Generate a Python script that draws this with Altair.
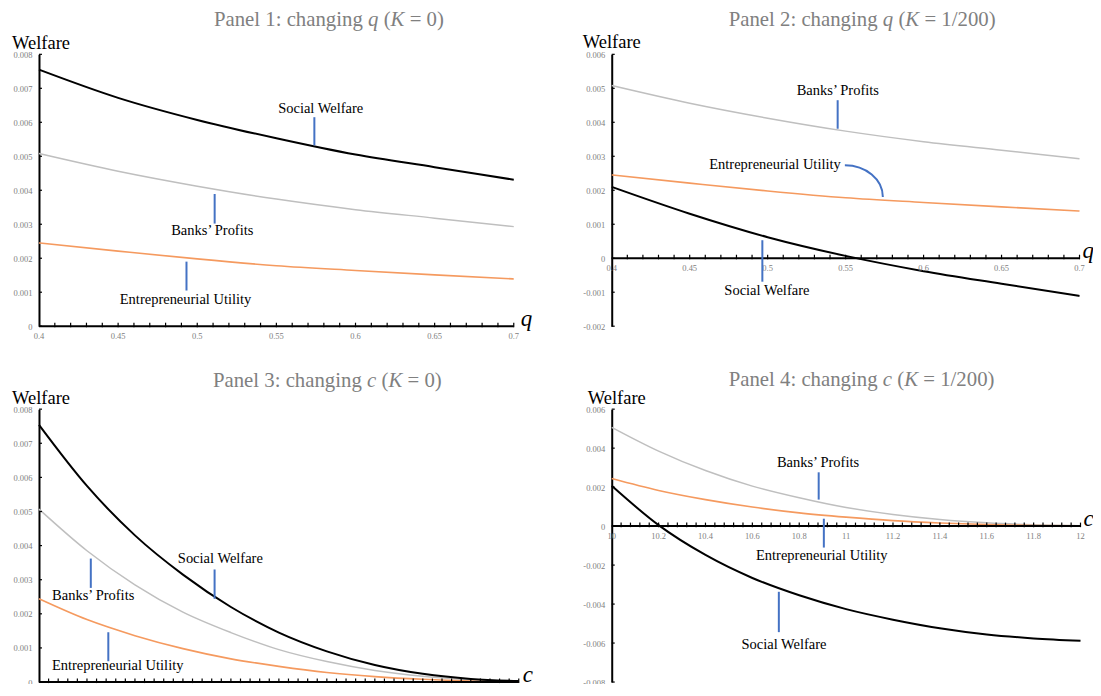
import altair as alt
import pandas as pd

# ---------------- data (welfare values) ----------------
Q = [0.40, 0.45, 0.50, 0.55, 0.60, 0.65, 0.70]
BANKS_Q = [0.00508, 0.00456, 0.00412, 0.00374, 0.00343, 0.00318, 0.00293]
ENTRE_Q = [0.00245, 0.00221, 0.00198, 0.00178, 0.00164, 0.00151, 0.00139]
SOCIAL_Q_K0 = [0.00755, 0.00672, 0.00607, 0.00553, 0.00505, 0.00468, 0.00431]
SOCIAL_Q_K200 = [0.00210, 0.00131, 0.00062, 0.00007, -0.00038, -0.00075, -0.00111]

C = [10.0, 10.2, 10.4, 10.6, 10.8, 11.0, 11.2, 11.4, 11.6, 11.8, 12.0]
BANKS_C = [0.00507, 0.00385, 0.00285, 0.00205, 0.00145, 0.00095, 0.00060, 0.00034, 0.00017, 0.00007, 0.00002]
ENTRE_C = [0.00244, 0.00183, 0.00136, 0.00098, 0.00068, 0.00046, 0.00028, 0.00016, 0.00008, 0.00003, 0.00001]
SOCIAL_C_K0 = [0.00754, 0.00575, 0.00430, 0.00315, 0.00220, 0.00145, 0.00090, 0.00050, 0.00024, 0.00009, 0.00003]
SOCIAL_C_K200 = [0.00207, 0.00005, -0.00148, -0.00266, -0.00355, -0.00426, -0.00480, -0.00524, -0.00556, -0.00576, -0.00588]

Q_LABELS = ["0.4", "0.45", "0.5", "0.55", "0.6", "0.65", "0.7"]
C_LABELS = ["10", "10.2", "10.4", "10.6", "10.8", "11", "11.2", "11.4", "11.6", "11.8", "12"]

# ---------------- style ----------------
SERIF = "Liberation Serif"
TICK_GRAY = "#808080"
TITLE_GRAY = "#808080"
BLUE = "#4472C4"
C_BANKS = "#BFBFBF"
C_ENTRE = "#F59A5F"
C_SOCIAL = "#000000"
TITLE_SIZE = 20.8
TICK_SIZE = 8.5

ROMAN_W = {'P': 556, 'a': 444, 'n': 500, 'e': 444, 'l': 278, ' ': 250, '0': 500, '1': 500,
           '2': 500, '3': 500, '4': 500, ':': 278, 'c': 444, 'h': 500, 'g': 500, 'i': 278,
           '(': 333, ')': 333, '=': 564, '/': 278}
ITALIC_W = {'q': 500, 'K': 667, 'c': 444}


def title_layers(segs, x0, y0):
    """segs: list of (text, italic, space_before)"""
    out = []
    cur = 0.0
    for text, ital, sp in segs:
        if sp:
            cur += 250
        out.append(
            alt.Chart(pd.DataFrame({"t": [text]}))
            .mark_text(font=SERIF, fontSize=TITLE_SIZE, color=TITLE_GRAY, align="left",
                       baseline="alphabetic", fontStyle="italic" if ital else "normal")
            .encode(x=alt.value(x0 + cur * TITLE_SIZE / 1000.0), y=alt.value(y0), text="t:N")
        )
        table = ITALIC_W if ital else ROMAN_W
        cur += sum(table.get(ch, 500) for ch in text)
    return out


def make_panel(xv, banks, entre, social, xdom, ydom, yticks, xminor, xlabels_v, xlabels_t,
               w, h, segs, title_xy, welfare_xy, var, var_dx, notes, pointers, arc=None):
    xs = alt.Scale(domain=xdom, nice=False, zero=False)
    ys = alt.Scale(domain=ydom, nice=False, zero=False)
    yax = alt.Axis(values=yticks, title=None, grid=False, ticks=False, domainColor="black",
                   domainWidth=2, labelFont=SERIF, labelFontSize=TICK_SIZE, labelColor=TICK_GRAY,
                   labelPadding=7, labelFlush=False, labelOverlap=False,
                   labelExpr="datum.value == 0 ? '0' : replace(format(datum.value, '.3f'), '\u2212', '-')")
    X = alt.X("x:Q", scale=xs, axis=None)
    Y = alt.Y("v:Q", scale=ys, axis=yax)
    layers = []
    for vals, color, sw in [(banks, C_BANKS, 1.5), (entre, C_ENTRE, 1.6), (social, C_SOCIAL, 2.0)]:
        df = pd.DataFrame({"x": xv, "v": vals})
        layers.append(alt.Chart(df).mark_line(color=color, strokeWidth=sw, interpolate="monotone")
                      .encode(x=X, y=Y))
    # x axis line at zero
    axdf = pd.DataFrame({"x": [xdom[0]], "x2": [xdom[1]], "v": [0.0]})
    layers.append(alt.Chart(axdf).mark_rule(color="black", strokeWidth=2)
                  .encode(x=X, x2=alt.X2("x2"), y=Y))
    # minor ticks on x axis
    mdf = pd.DataFrame({"x": xminor, "v": [0.0] * len(xminor)})
    layers.append(alt.Chart(mdf).mark_point(shape="M0,-1L0,0.3", size=49, filled=False, color="black",
                                            strokeWidth=1.2, opacity=1).encode(x=X, y=Y))
    # ticks on y axis (pointing inwards)
    ydf = pd.DataFrame({"x": [xdom[0]] * len(yticks), "v": yticks})
    layers.append(alt.Chart(ydf).mark_point(shape="M0,0L1,0", size=36, filled=False, color="black",
                                            strokeWidth=1.2, opacity=1).encode(x=X, y=Y))
    # x tick labels
    ldf = pd.DataFrame({"x": xlabels_v, "v": [0.0] * len(xlabels_v), "t": xlabels_t})
    layers.append(alt.Chart(ldf).mark_text(font=SERIF, fontSize=TICK_SIZE, color=TICK_GRAY, dy=10,
                                           baseline="middle", align="center")
                  .encode(x=X, y=Y, text="t:N"))
    # blue pointers
    pdf = pd.DataFrame(pointers, columns=["x", "v", "v2"])
    layers.append(alt.Chart(pdf).mark_rule(color=BLUE, strokeWidth=2)
                  .encode(x=X, y=Y, y2=alt.Y2("v2")))
    if arc is not None:
        adf = pd.DataFrame([arc], columns=["x", "v"])
        layers.append(alt.Chart(adf).mark_point(shape="M-1,-1A2,1.667 0 0 1 1,0.667", size=1444,
                                                filled=False, color=BLUE, strokeWidth=2, opacity=1)
                      .encode(x=X, y=Y))
    # annotations
    ndf = pd.DataFrame(notes, columns=["t", "x", "v"])
    layers.append(alt.Chart(ndf).mark_text(font=SERIF, fontSize=14.5, color="black", align="center",
                                           baseline="middle").encode(x=X, y=Y, text="t:N"))
    # axis variable
    vdf = pd.DataFrame({"x": [xdom[1]], "v": [0.0], "t": [var]})
    layers.append(alt.Chart(vdf).mark_text(font=SERIF, fontStyle="italic", fontSize=23, color="black",
                                           align="left", baseline="alphabetic", dx=var_dx)
                  .encode(x=X, y=Y, text="t:N"))
    # "Welfare"
    layers.append(alt.Chart(pd.DataFrame({"t": ["Welfare"]}))
                  .mark_text(font=SERIF, fontSize=18.5, color="black", align="left", baseline="alphabetic")
                  .encode(x=alt.value(welfare_xy[0]), y=alt.value(welfare_xy[1]), text="t:N"))
    layers += title_layers(segs, title_xy[0], title_xy[1])
    return alt.layer(*layers).properties(width=w, height=h)


yt8 = [round(0.001 * i, 3) for i in range(0, 9)]
yt_q2 = [round(0.001 * i, 3) for i in range(-2, 7)]
yt_c2 = [round(0.002 * i, 3) for i in range(-4, 4)]
minor_q = [round(0.4 + 0.01 * i, 2) for i in range(1, 31)]
minor_c = [round(10 + 0.04 * i, 2) for i in range(1, 51)]

p1 = make_panel(
    Q, BANKS_Q, ENTRE_Q, SOCIAL_Q_K0, [0.4, 0.7], [0, 0.008], yt8, minor_q, Q, Q_LABELS,
    475, 272,
    [("Panel 1: changing", False, False), ("q", True, True), ("(", False, True), ("K", True, False), ("= 0)", False, True)],
    (175, -28), (-27, -5.5), "q", 7,
    [("Social Welfare", 0.578, 0.00640), ("Banks’ Profits", 0.5095, 0.00279), ("Entrepreneurial Utility", 0.4926, 0.000765)],
    [(0.574, 0.00615, 0.00532), (0.511, 0.00389, 0.00302), (0.4932, 0.00190, 0.00105)],
)
p2 = make_panel(
    Q, BANKS_Q, ENTRE_Q, SOCIAL_Q_K200, [0.4, 0.7], [-0.002, 0.006], yt_q2, minor_q, Q, Q_LABELS,
    468, 272,
    [("Panel 2: changing", False, False), ("q", True, True), ("(", False, True), ("K", True, False), ("= 1/200)", False, True)],
    (117, -28), (-29, -6), "q", 3,
    [("Banks’ Profits", 0.545, 0.00492), ("Entrepreneurial Utility", 0.5047, 0.00275), ("Social Welfare", 0.4995, -0.00096)],
    [(0.5449, 0.00465, 0.00381), (0.4966, 0.00053, -0.00069)],
    arc=(0.5617, 0.002176),
)
p3 = make_panel(
    C, BANKS_C, ENTRE_C, SOCIAL_C_K0, [10, 12], [0, 0.008], yt8, minor_c, C, C_LABELS,
    480, 273,
    [("Panel 3: changing", False, False), ("c", True, True), ("(", False, True), ("K", True, False), ("= 0)", False, True)],
    (174, -22.5), (-27, -5.5), "c", 4,
    [("Social Welfare", 10.756, 0.00360), ("Banks’ Profits", 10.226, 0.00251), ("Entrepreneurial Utility", 10.328, 0.00046)],
    [(10.732, 0.00330, 0.00244), (10.216, 0.00362, 0.00276), (10.289, 0.00146, 0.00061)],
)
p4 = make_panel(
    C, BANKS_C, ENTRE_C, SOCIAL_C_K200, [10, 12], [-0.008, 0.006], yt_c2, minor_c, C, C_LABELS,
    469, 273,
    [("Panel 4: changing", False, False), ("c", True, True), ("(", False, True), ("K", True, False), ("= 1/200)", False, True)],
    (117, -23), (-24, -5.5), "c", 3,
    [("Banks’ Profits", 10.88, 0.00325), ("Entrepreneurial Utility", 10.896, -0.00153), ("Social Welfare", 10.735, -0.00609)],
    [(10.883, 0.00276, 0.00136), (10.905, 0.00038, -0.00110), (10.713, -0.00337, -0.00544)],
)

chart = (
    alt.concat(p1, p2, p3, p4, columns=2, spacing=alt.RowColnumber(row=83, column=93),
               bounds="flush", align="none")
    .properties(padding={"left": 4, "top": 1.2, "right": -1.5, "bottom": -13}, background="white")
    .configure_view(stroke=None)
)

chart.save("out.html", embed_options={"renderer": "svg", "actions": False})
